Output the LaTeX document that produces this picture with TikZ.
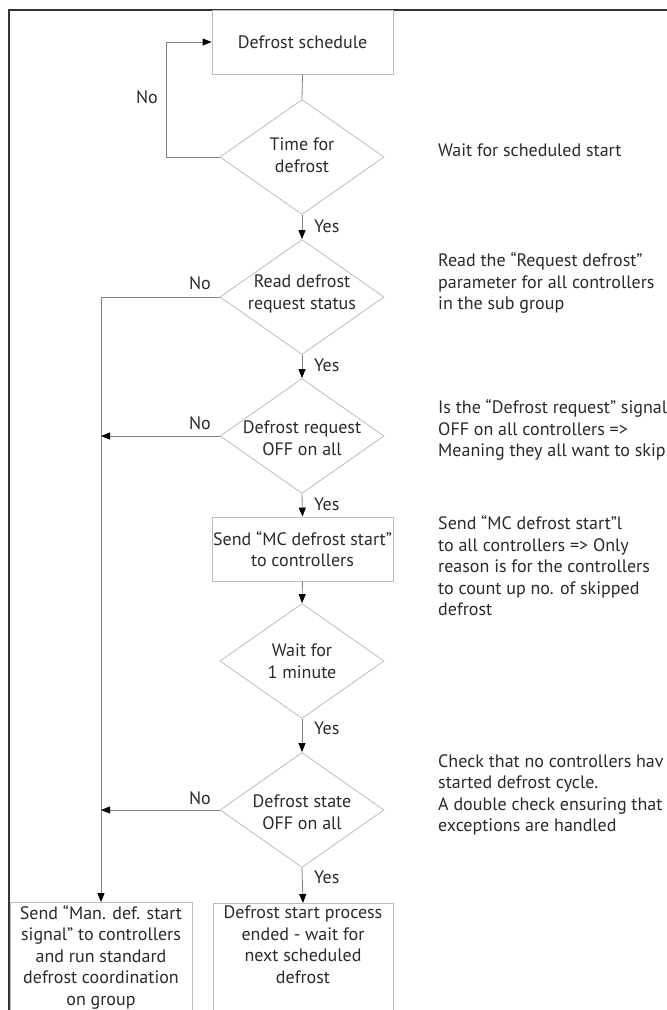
\documentclass[tikz,border=0pt]{standalone}
\usepackage{fontspec}
\setmainfont{PT Sans}
\usetikzlibrary{arrows.meta, shapes.geometric}
\definecolor{framegray}{HTML}{333333}
\definecolor{linegray}{HTML}{BDBDBD}
\definecolor{textgray}{HTML}{2A2A2A}

\begin{document}
\begin{tikzpicture}[
    x=1pt, y=-1pt,
    font=\fontsize{18}{21.5}\selectfont,
    process/.style={draw=linegray, line width=0.8pt, minimum width=181pt, minimum height=64pt, inner sep=0pt, align=center, text=textgray},
    decision/.style={draw=linegray, line width=0.8pt, diamond, minimum width=164pt, minimum height=115pt, inner sep=0pt},
    txt/.style={align=center, text=textgray, inner sep=0pt},
    note/.style={align=left, anchor=west, text=textgray, inner sep=0pt},
    yes/.style={anchor=west, text=textgray, inner sep=0pt},
    flow/.style={draw=gray, line width=0.8pt, -{Triangle[length=9pt, width=7pt, color=black]}},
    link/.style={draw=gray, line width=0.8pt},
]
\useasboundingbox (0,0) rectangle (667,1010);
\clip (0,0) rectangle (667,1010);
\draw[framegray, line width=1.2pt] (9,10) rectangle (720,1060);

% Main column
\node[process] (sched) at (302.5,42) {Defrost schedule};
\node[decision] (d1) at (302,157) {};
\node[txt] at ([yshift=2pt]d1) {Time for\\defrost};
\node[decision] (d2) at (302,297) {};
\node[txt] at ([yshift=3pt]d2) {Read defrost\\request status};
\node[decision] (d3) at (302,436) {};
\node[txt] at ([yshift=-2pt]d3) {Defrost request\\OFF on all};
\node[process] (send) at (302.5,549) {Send “MC defrost start”\\to controllers};
\node[decision] (d4) at (302,661) {};
\node[txt] at (d4) {Wait for\\1 minute};
\node[decision] (d5) at (302,810) {};
\node[txt] at ([yshift=-2pt]d5) {Defrost state\\OFF on all};

% End boxes
\node[process, anchor=north, minimum width=182pt, minimum height=140pt] (manual) at (101,902) {};
\node[txt, anchor=north] at ([yshift=-3pt]manual.north) {Send “Man. def. start\\signal” to controllers\\and run standard\\defrost coordination\\on group};
\node[process, anchor=north, minimum width=180pt, minimum height=140pt] (stop) at (303,903) {};
\node[txt, anchor=north] at ([yshift=-3pt]stop.north) {Defrost start process\\ended - wait for\\next scheduled\\defrost};

% Connectors
\draw[link] (sched.south) -- (d1.north);
\draw[flow] (d1.west) -- ++(-53,0) |- (sched.west);
\draw[flow] (d1.south) -- (d2.north);
\draw[flow] (d2.south) -- (d3.north);
\draw[flow] (d3.south) -- (send.north);
\draw[flow] (send.south) -- (d4.north);
\draw[flow] (d4.south) -- (d5.north);
\draw[flow] (d5.south) -- (stop.north);
\draw[flow] (d2.west) -| (manual.north);
\draw[flow] (d3.west) -- (d3.west -| manual.north);
\draw[flow] (d5.west) -- (d5.west -| manual.north);

% Yes / No
\node[txt] at (147,97) {No};
\node[txt] at (200,283) {No};
\node[txt] at (200,423) {No};
\node[txt] at (200,798) {No};
\foreach \y in {226, 365, 504, 728, 877} {
    \node[yes] at (314,\y) {Yes};
}

% Notes
\node[note] at (438,150) {Wait for scheduled start};
\node[note] at (438,283) {Read the “Request defrost”\\parameter for all controllers\\in the sub group};
\node[note] at (438,430) {Is the “Defrost request” signal\\OFF on all controllers =>\\Meaning they all want to skip};
\node[note] at (438,566) {Send “MC defrost start”l\\to all controllers => Only\\reason is for the controllers\\to count up no. of skipped\\defrost};
\node[note] at (438,795) {Check that no controllers hav\\started defrost cycle.\\A double check ensuring that\\exceptions are handled};
\end{tikzpicture}
\end{document}
